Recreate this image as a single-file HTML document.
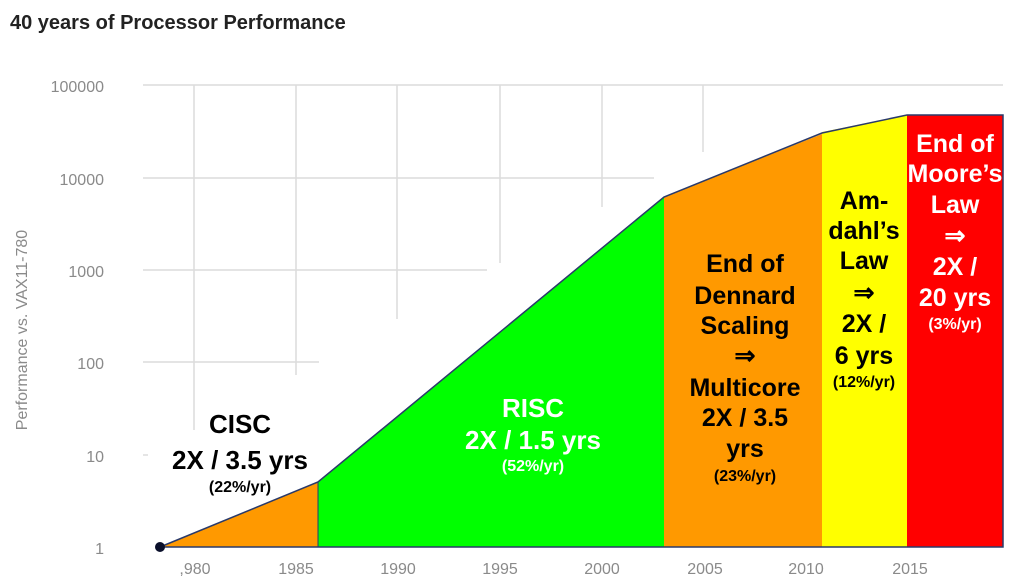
<!DOCTYPE html>
<html><head><meta charset="utf-8"><style>
html,body{margin:0;padding:0;background:#fff;}
svg{display:block;font-family:"Liberation Sans",Arial,sans-serif;}
.ax{fill:#8a8a8a;font-size:16px;}
.b{font-weight:bold;font-size:25px;text-anchor:middle;}
.c{font-weight:bold;font-size:26px;text-anchor:middle;}
.s{font-weight:bold;font-size:16px;text-anchor:middle;}
</style></head><body>
<svg width="1024" height="581" viewBox="0 0 1024 581">
<text x="10" y="29" font-size="20" font-weight="bold" fill="#222">40 years of Processor Performance</text>
<g stroke="#dcdcdc" stroke-width="1.5">
<line x1="143" y1="85" x2="1003" y2="85"/>
<line x1="143" y1="178" x2="654" y2="178"/>
<line x1="143" y1="270" x2="487" y2="270"/>
<line x1="143" y1="362" x2="319" y2="362"/>
<line x1="143" y1="455" x2="148" y2="455"/>
<line x1="194" y1="85" x2="194" y2="430"/>
<line x1="296" y1="85" x2="296" y2="375"/>
<line x1="397" y1="85" x2="397" y2="319"/>
<line x1="500" y1="85" x2="500" y2="263"/>
<line x1="602" y1="85" x2="602" y2="207"/>
<line x1="703" y1="85" x2="703" y2="152"/>
</g>
<g class="ax" text-anchor="end">
<text x="104" y="92">100000</text>
<text x="104" y="185">10000</text>
<text x="104" y="277">1000</text>
<text x="104" y="369">100</text>
<text x="104" y="462">10</text>
<text x="104" y="554">1</text>
</g>
<text class="ax" font-size="17" transform="translate(27,330) rotate(-90)" text-anchor="middle">Performance vs. VAX11-780</text>
<g class="ax" text-anchor="middle" font-size="17">
<text x="195" y="574">,980</text>
<text x="296" y="574">1985</text>
<text x="398" y="574">1990</text>
<text x="500" y="574">1995</text>
<text x="602" y="574">2000</text>
<text x="705" y="574">2005</text>
<text x="806" y="574">2010</text>
<text x="910" y="574">2015</text>
</g>
<polygon points="160,547 318,482 318,547" fill="#ff9900"/>
<polygon points="318,482 664,197 664,547 318,547" fill="#00ff00"/>
<polygon points="664,197 822,134 822,547 664,547" fill="#ff9900"/>
<polygon points="822,132 907,115 907,547 822,547" fill="#ffff00"/>
<polygon points="907,115 1003,115 1003,547 907,547" fill="#ff0000"/>
<polyline points="160,547 318,482 664,197 822,133 907,115 1003,115 1003,547 160,547" fill="none" stroke="#2a3a6a" stroke-width="1.5"/>
<line x1="318" y1="482" x2="318" y2="547" stroke="#2a3a6a" stroke-width="1"/>
<circle cx="160" cy="547" r="5" fill="#0a0f2a"/>
<g fill="#000">
<text class="c" x="240" y="433">CISC</text>
<text class="c" x="240" y="469">2X / 3.5 yrs</text>
<text class="s" x="240" y="492">(22%/yr)</text>
</g>
<g fill="#fff">
<text class="c" x="533" y="417" font-weight="normal">RISC</text>
<text class="c" x="533" y="449">2X / 1.5 yrs</text>
<text class="s" x="533" y="471">(52%/yr)</text>
</g>
<g fill="#000">
<text class="b" x="745" y="272">End of</text>
<text class="b" x="745" y="304">Dennard</text>
<text class="b" x="745" y="334">Scaling</text>
<text class="b" x="745" y="364">⇒</text>
<text class="b" x="745" y="396">Multicore</text>
<text class="b" x="745" y="426">2X / 3.5</text>
<text class="b" x="745" y="457">yrs</text>
<text class="s" x="745" y="481">(23%/yr)</text>
<text class="b" x="864" y="209">Am-</text>
<text class="b" x="864" y="239">dahl’s</text>
<text class="b" x="864" y="269">Law</text>
<text class="b" x="864" y="301">⇒</text>
<text class="b" x="864" y="332">2X /</text>
<text class="b" x="864" y="364">6 yrs</text>
<text class="s" x="864" y="387">(12%/yr)</text>
</g>
<g fill="#fff">
<text class="b" x="955" y="152">End of</text>
<text class="b" x="955" y="182">Moore’s</text>
<text class="b" x="955" y="213">Law</text>
<text class="b" x="955" y="244">⇒</text>
<text class="b" x="955" y="275">2X /</text>
<text class="b" x="955" y="306">20 yrs</text>
<text class="s" x="955" y="329">(3%/yr)</text>
</g>
</svg>
</body></html>
